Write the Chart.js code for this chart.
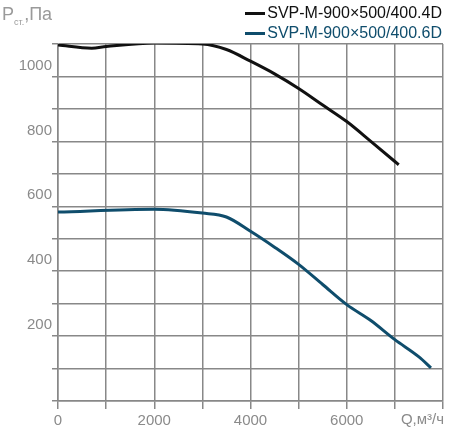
<!DOCTYPE html>
<html>
<head>
<meta charset="utf-8">
<script src="https://cdn.jsdelivr.net/npm/chart.js@4"></script>
<style>
  body { margin: 0; background: #fff; font-family: "Liberation Sans", Arial, sans-serif; }
  #wrap { position: relative; width: 450px; height: 435px; }
  .lbl { position: absolute; white-space: nowrap; }
  .leg { position: absolute; right: 8px; font-size: 16px; }
  .leg span { display: inline-block; width: 20px; height: 3px; vertical-align: middle; margin-right: 2px; }
</style>
</head>
<body>
<div id="wrap">
  <canvas id="curve" width="450" height="435"></canvas>
  <div class="lbl" style="left:2px;top:4px;color:#9a9a9a;font-size:18px">P<sub style="font-size:9px">ст.</sub>,Па</div>
  <div class="leg" style="top:4px;color:#111"><span style="background:#111"></span>SVP-M-900×500/400.4D</div>
  <div class="leg" style="top:24px;color:#0f4d6c"><span style="background:#0f4d6c"></span>SVP-M-900×500/400.6D</div>
  <div class="lbl" style="right:6px;top:410px;color:#8a8a8a;font-size:15px">Q,м³/ч</div>
</div>
<script>
const flow4D = [0, 700, 1000, 2000, 3000, 3500, 4000, 4500, 5000, 5500, 6000, 6500, 7000, 7080];
const pres4D = [1097, 1087, 1092, 1103, 1100, 1083, 1047, 1008, 963, 912, 861, 800, 738, 728];
const flow6D = [0, 2000, 3000, 3500, 4000, 4500, 5000, 5500, 6000, 6500, 7000, 7500, 7750];
const pres6D = [582, 591, 579, 567, 523, 474, 421, 359, 297, 248, 189, 136, 102];

const pts = (xs, ys) => xs.map((x, i) => ({ x: x, y: ys[i] }));

new Chart(document.getElementById('curve'), {
    type: 'scatter',
    data: {
        datasets: [
            { data: pts(flow4D, pres4D), borderColor: '#111', borderWidth: 3, showLine: true, pointRadius: 0, cubicInterpolationMode: 'monotone' },
            { data: pts(flow6D, pres6D), borderColor: '#0f4d6c', borderWidth: 3, showLine: true, pointRadius: 0, cubicInterpolationMode: 'monotone' }
        ]
    },
    options: {
        responsive: false,
        animation: false,
        layout: { padding: { top: 44, right: 7 } },
        plugins: { legend: { display: false }, tooltip: { enabled: false } },
        scales: {
            x: {
                min: 0, max: 8000,
                ticks: { stepSize: 1000, color: '#8a8a8a', font: { size: 15 }, maxRotation: 0,
                    callback: v => (v % 2000 === 0 && v < 8000) ? v : '' },
                grid: { color: '#888', lineWidth: 1.5, tickLength: 8 },
                border: { color: '#888', width: 1.5 },
                afterFit: s => { s.height = 34; }
            },
            y: {
                min: 0, max: 1100,
                ticks: { stepSize: 100, color: '#8a8a8a', font: { size: 15 }, labelOffset: -11, padding: 0,
                    callback: v => (v % 200 === 0 && v > 0) ? v : '' },
                grid: { color: '#888', lineWidth: 1.5, tickLength: 6 },
                border: { color: '#888', width: 1.5 },
                afterFit: s => { s.width = 58; }
            }
        }
    }
});
</script>
</body>
</html>
